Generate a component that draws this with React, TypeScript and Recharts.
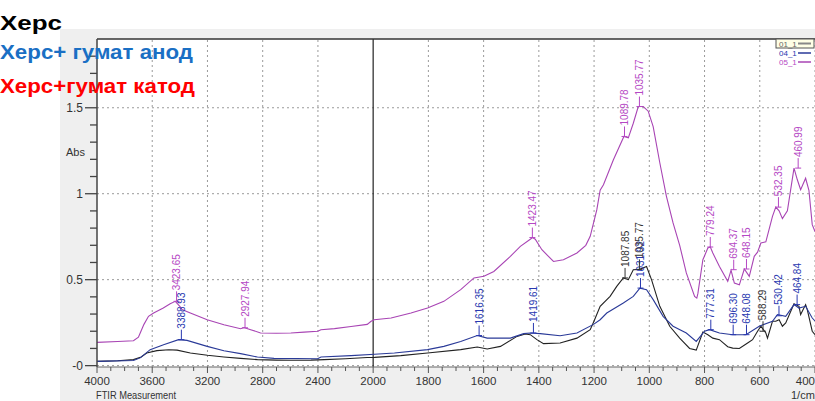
import React from 'react';
import { ComposedChart, Line, XAxis, YAxis, CartesianGrid, ReferenceLine, ReferenceDot } from 'recharts';

// ---- data (wavenumber 1/cm, absorbance) ----
const wnPurple = [4000, 3850, 3736, 3700, 3687, 3660, 3627, 3590, 3520, 3470, 3433, 3400, 3384, 3324, 3202, 3081, 2960, 2935, 2920, 2887, 2815, 2700, 2596, 2500, 2402, 2378, 2280, 2160, 2043, 2015, 1996, 1935, 1863, 1803, 1744, 1683, 1635, 1599, 1563, 1503, 1467, 1431, 1423, 1413, 1389, 1347, 1311, 1262, 1230, 1214, 1190, 1178, 1166, 1130, 1092, 1076, 1058, 1040, 1022, 1004, 986, 962, 938, 914, 890, 866, 836, 828, 824, 806, 788, 779, 770, 746, 716, 704, 692, 674, 656, 638, 620, 608, 596, 578, 554, 542, 530, 518, 500, 476, 464, 452, 434, 422, 410, 400];
const absPurple = [0.135, 0.14, 0.145, 0.165, 0.19, 0.24, 0.287, 0.306, 0.335, 0.36, 0.374, 0.345, 0.326, 0.306, 0.267, 0.238, 0.215, 0.222, 0.218, 0.209, 0.19, 0.188, 0.19, 0.195, 0.2, 0.209, 0.215, 0.228, 0.24, 0.258, 0.267, 0.277, 0.306, 0.335, 0.374, 0.442, 0.51, 0.52, 0.548, 0.636, 0.694, 0.735, 0.745, 0.735, 0.674, 0.606, 0.616, 0.655, 0.7, 0.752, 0.907, 1.02, 1.052, 1.198, 1.333, 1.325, 1.41, 1.507, 1.507, 1.48, 1.39, 1.18, 0.985, 0.83, 0.7, 0.539, 0.403, 0.393, 0.42, 0.616, 0.684, 0.69, 0.655, 0.577, 0.49, 0.555, 0.48, 0.47, 0.562, 0.519, 0.636, 0.66, 0.713, 0.72, 0.868, 0.922, 0.9, 0.855, 0.9, 1.149, 1.081, 1.023, 1.09, 1.02, 0.82, 0.78];

const wnBlack = [4000, 3850, 3736, 3680, 3640, 3566, 3480, 3420, 3324, 3200, 3081, 2960, 2838, 2700, 2596, 2450, 2354, 2200, 2043, 1995, 1900, 1803, 1683, 1623, 1587, 1539, 1479, 1449, 1431, 1407, 1383, 1323, 1262, 1214, 1200, 1178, 1142, 1118, 1094, 1076, 1058, 1035, 1010, 992, 962, 926, 890, 854, 830, 806, 788, 770, 746, 716, 698, 674, 644, 626, 608, 596, 578, 572, 554, 542, 530, 518, 506, 476, 458, 452, 434, 428, 410, 400];
const absBlack = [0.025, 0.028, 0.035, 0.05, 0.073, 0.087, 0.092, 0.09, 0.073, 0.06, 0.05, 0.042, 0.035, 0.032, 0.031, 0.032, 0.035, 0.04, 0.047, 0.048, 0.058, 0.073, 0.093, 0.108, 0.097, 0.112, 0.17, 0.184, 0.18, 0.151, 0.128, 0.132, 0.16, 0.209, 0.26, 0.345, 0.403, 0.461, 0.51, 0.5, 0.558, 0.56, 0.577, 0.5, 0.345, 0.229, 0.16, 0.1, 0.09, 0.195, 0.18, 0.16, 0.151, 0.11, 0.102, 0.1, 0.132, 0.151, 0.2, 0.229, 0.19, 0.16, 0.258, 0.258, 0.267, 0.229, 0.248, 0.36, 0.345, 0.297, 0.355, 0.326, 0.2, 0.18];

const wnBlue = [4000, 3736, 3687, 3615, 3518, 3409, 3348, 3202, 3081, 2960, 2838, 2718, 2402, 2378, 2160, 1995, 1923, 1803, 1744, 1683, 1623, 1587, 1503, 1455, 1431, 1395, 1323, 1262, 1202, 1178, 1154, 1094, 1058, 1034, 1010, 986, 950, 914, 866, 830, 800, 782, 746, 698, 650, 602, 554, 536, 506, 476, 458, 434, 410, 400];
const absBlue = [0.025, 0.03, 0.045, 0.093, 0.122, 0.151, 0.147, 0.112, 0.087, 0.07, 0.05, 0.042, 0.04, 0.05, 0.058, 0.066, 0.073, 0.093, 0.112, 0.14, 0.175, 0.16, 0.16, 0.186, 0.19, 0.186, 0.174, 0.19, 0.24, 0.267, 0.306, 0.364, 0.403, 0.451, 0.442, 0.384, 0.287, 0.229, 0.19, 0.141, 0.2, 0.209, 0.19, 0.18, 0.18, 0.229, 0.258, 0.297, 0.287, 0.355, 0.335, 0.345, 0.277, 0.26];

// peak annotations
const purplePeakWn = [3423.65, 2927.94, 1423.47, 1089.78, 1035.77, 779.24, 694.37, 648.15, 532.35, 460.99];
const purplePeakAbs = [0.374, 0.22, 0.745, 1.333, 1.507, 0.69, 0.558, 0.562, 0.922, 1.149];
const bluePeakWn = [3388.93, 1616.35, 1419.61, 1031.92, 777.31, 696.3, 648.08, 530.42, 464.84];
const bluePeakAbs = [0.151, 0.175, 0.19, 0.451, 0.209, 0.18, 0.18, 0.29, 0.355];
const blackPeakWn = [1087.85, 1035.77, 588.29];
const blackPeakAbs = [0.51, 0.56, 0.2];

// axis tick labels
const xMajorLabels = [4000, 3600, 3200, 2800, 2400, 2000, 1800, 1600, 1400, 1200, 1000, 800, 600, 400];
const yTicks = [0, 0.1, 0.2, 0.3, 0.4, 0.5, 0.6, 0.7, 0.8, 0.9, 1, 1.1, 1.2, 1.3, 1.4, 1.5, 1.6, 1.7, 1.8];
const yMajor = [0, 0.5, 1, 1.5];

const legendNames = ['Херс', 'Херс+ гумат анод', 'Херс+гумат катод'];
const seriesNames = ['01_1', '04_1', '05_1'];

const PURPLE = '#a844b4';
const PURPLE_T = '#b548c4';
const BLUE = '#2a3a98';
const BLUE_T = '#2838b0';
const BLACK = '#222222';
const FONT = '"Liberation Sans Narrow", "Liberation Sans", Arial, sans-serif';

// FTIR axis: 4000-2000 drawn at half scale
const toU = (wn: number) => (wn >= 2000 ? (4000 - wn) / 2 : 1000 + (2000 - wn));
const fromU = (u: number) => (u <= 1000 ? 4000 - 2 * u : 2000 - (u - 1000));
const mk = (wn: number[], ab: number[]) => wn.map((w, i) => ({ u: toU(w), v: ab[i] }));

const dataPurple = mk(wnPurple, absPurple);
const dataBlack = mk(wnBlack, absBlack);
const dataBlue = mk(wnBlue, absBlue);

const xTicks: number[] = [];
for (let u = 0; u <= 2600; u += 50) xTicks.push(u);
const xMajorU = xMajorLabels.map(toU);

const XTick = (props: any) => {
  const { x, y, payload } = props;
  const u = payload.value;
  const major = xMajorU.includes(u);
  const last = u === 2600;
  return (
    <g>
      <line x1={x} x2={x} y1={y} y2={y + (major ? 6 : 4)} stroke="#555" strokeWidth={1} />
      {major && (
        <text x={last ? x : x} y={y + 18} textAnchor={last ? 'end' : 'middle'} fontSize={11.5} fontFamily={FONT} fill="#333">
          {fromU(u)}
        </text>
      )}
    </g>
  );
};

const YTick = (props: any) => {
  const { x, y, payload } = props;
  const v = payload.value;
  const major = yMajor.includes(v);
  return (
    <g>
      <line x1={x} x2={x - (major ? 12 : 7)} y1={y} y2={y} stroke="#444" strokeWidth={1.3} />
      {major && (
        <text x={x - 14} y={y + 4} textAnchor="end" fontSize={12} fontFamily={FONT} fill="#333">
          {v === 0 ? '-0' : String(v)}
        </text>
      )}
    </g>
  );
};

const PeakMark = (props: any) => {
  const { cx, cy, color, text } = props;
  if (cx == null || cy == null || isNaN(cx) || isNaN(cy)) return null;
  const top = cy - 10;
  return (
    <g>
      <line x1={cx - 3} x2={cx + 3} y1={cy} y2={cy} stroke={color} strokeWidth={1} />
      <line x1={cx} x2={cx} y1={cy} y2={top} stroke={color} strokeWidth={1} />
      <text
        x={cx}
        y={top - 1}
        transform={`rotate(-90 ${cx} ${top - 1})`}
        fill={color}
        fontSize={10}
        fontFamily={FONT}
        dominantBaseline="central"
        textAnchor="start"
      >
        {text}
      </text>
    </g>
  );
};

const peakDots = (wn: number[], ab: number[], color: string, key: string) =>
  wn.map((w, i) => (
    <ReferenceDot
      key={key + i}
      x={toU(w)}
      y={ab[i]}
      r={0}
      ifOverflow="visible"
      shape={(p: any) => <PeakMark cx={p.cx} cy={p.cy} color={color} text={w.toFixed(2)} />}
    />
  ));

export default function App() {
  return (
    <div style={{ position: 'absolute', left: 0, top: 0, width: 815, height: 401, overflow: 'hidden', background: '#fff' }}>
      <div style={{ position: 'absolute', left: 60, top: 29, width: 755, height: 372, background: '#efefef' }} />
      <div style={{ position: 'absolute', left: 0, top: 0 }}>
        <ComposedChart width={815} height={401} margin={{ top: 39, right: 0, left: 60, bottom: 0 }}>
          <CartesianGrid fill="#ffffff" horizontal={false} vertical={false} />
          <XAxis
            type="number"
            dataKey="u"
            domain={[0, 2600]}
            ticks={xTicks}
            interval={0}
            tick={<XTick />}
            tickLine={false}
            tickSize={0}
            tickMargin={0}
            height={34}
            axisLine={{ stroke: '#666', strokeWidth: 1 }}
            allowDataOverflow
          />
          <YAxis
            type="number"
            dataKey="v"
            domain={[-0.008, 1.9]}
            ticks={yTicks}
            interval={0}
            tick={<YTick />}
            tickLine={false}
            tickSize={0}
            tickMargin={0}
            width={37}
            axisLine={{ stroke: '#444', strokeWidth: 1.5 }}
            allowDataOverflow
          />
          {xMajorU.filter((u) => u !== 0 && u !== 1000).map((u) => (
            <ReferenceLine key={'vx' + u} x={u} stroke="#9a9a9a" strokeDasharray="2 3" />
          ))}
          {yMajor.map((v) => (
            <ReferenceLine key={'hy' + v} y={v} stroke="#9a9a9a" strokeDasharray="2 3" />
          ))}
          <ReferenceLine x={toU(2000)} stroke="#222" strokeWidth={1.2} />
          <ReferenceLine y={1.9} stroke="#333" strokeWidth={1.5} />
          <Line data={dataBlack} dataKey="v" name={seriesNames[0]} stroke={BLACK} strokeWidth={1.1} dot={false} isAnimationActive={false} />
          <Line data={dataBlue} dataKey="v" name={seriesNames[1]} stroke={BLUE} strokeWidth={1.1} dot={false} isAnimationActive={false} />
          <Line data={dataPurple} dataKey="v" name={seriesNames[2]} stroke={PURPLE} strokeWidth={1.1} dot={false} isAnimationActive={false} />
          {peakDots(purplePeakWn, purplePeakAbs, PURPLE_T, 'pp')}
          {peakDots(bluePeakWn, bluePeakAbs, BLUE_T, 'bp')}
          {peakDots(blackPeakWn, blackPeakAbs, '#333', 'kp')}
        </ComposedChart>
      </div>
      <svg width={815} height={401} style={{ position: 'absolute', left: 0, top: 0, pointerEvents: 'none' }}>
        <text x={0} y={30} fontSize={21} fontWeight="bold" fontFamily="Liberation Sans, Arial, sans-serif" fill="#000" textLength={62} lengthAdjust="spacingAndGlyphs">{legendNames[0]}</text>
        <text x={0} y={59} fontSize={21} fontWeight="bold" fontFamily="Liberation Sans, Arial, sans-serif" fill="#1a6fc4" textLength={193} lengthAdjust="spacingAndGlyphs">{legendNames[1]}</text>
        <text x={0} y={93} fontSize={21} fontWeight="bold" fontFamily="Liberation Sans, Arial, sans-serif" fill="#ff0000" textLength={195} lengthAdjust="spacingAndGlyphs">{legendNames[2]}</text>
        <text x={66} y={156} fontSize={11} fontFamily={FONT} fill="#333">Abs</text>
        <text x={96} y={399} fontSize={11} fontFamily={FONT} fill="#333" textLength={80} lengthAdjust="spacingAndGlyphs">FTIR Measurement</text>
        <text x={791} y={399} fontSize={11} fontFamily={FONT} fill="#333">1/cm</text>
        <rect x={776} y={39} width={38} height={9} fill="#ffffe6" stroke="#555" strokeWidth={1} />
        <text x={779} y={46.5} fontSize={8} fontFamily={FONT} fill="#666">{seriesNames[0]}</text>
        <line x1={798} x2={811} y1={43.5} y2={43.5} stroke="#888" strokeWidth={2} />
        <text x={779} y={56} fontSize={8} fontFamily={FONT} fill={BLUE_T}>{seriesNames[1]}</text>
        <line x1={798} x2={811} y1={53} y2={53} stroke={BLUE} strokeWidth={1.5} />
        <text x={779} y={65} fontSize={8} fontFamily={FONT} fill={PURPLE_T}>{seriesNames[2]}</text>
        <line x1={798} x2={811} y1={62} y2={62} stroke={PURPLE} strokeWidth={1.5} />
      </svg>
    </div>
  );
}
